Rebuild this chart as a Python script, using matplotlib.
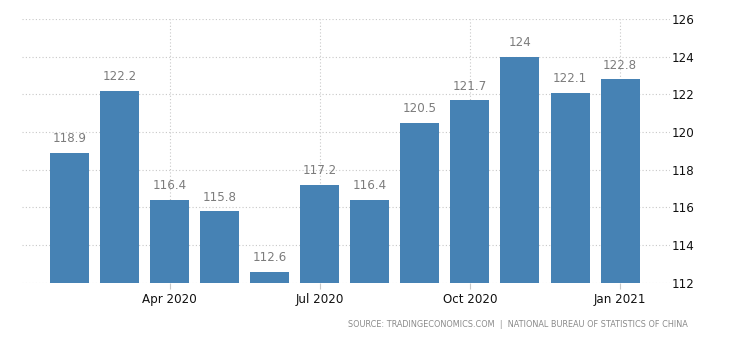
import numpy as np
import matplotlib.pyplot as plt

# Monthly index values, Feb 2020 - Jan 2021
months = ["Feb 2020", "Mar 2020", "Apr 2020", "May 2020", "Jun 2020", "Jul 2020",
          "Aug 2020", "Sep 2020", "Oct 2020", "Nov 2020", "Dec 2020", "Jan 2021"]
values = [118.9, 122.2, 116.4, 115.8, 112.6, 117.2, 116.4, 120.5, 121.7, 124, 122.1, 122.8]
shown_months = ["Apr 2020", "Jul 2020", "Oct 2020", "Jan 2021"]
y_ticks = [112, 114, 116, 118, 120, 122, 124, 126]

bar_color = "#4682b4"
grid_color = "#c8c8c8"

fig = plt.figure(figsize=(7.3, 3.4), dpi=100)
ax = fig.add_axes([0.030, 0.168, 0.888, 0.776])

x = np.arange(len(months))
ax.bar(x, values, width=0.78, color=bar_color, zorder=2)

for xi, v in zip(x, values):
    ax.text(xi, v + 0.4, f"{v:g}", ha="center", va="bottom",
            fontsize=8.6, color="#7c7c7c", zorder=3)

ax.set_ylim(112, 126)
ax.set_xlim(-0.95, 12.0)
ax.set_yticks(y_ticks)
ax.yaxis.tick_right()
ax.tick_params(axis="y", length=0, pad=1, labelsize=8.6, labelcolor="#111111")

tick_pos = [months.index(m) for m in shown_months]
ax.set_xticks(tick_pos)
ax.set_xticklabels(shown_months)
ax.tick_params(axis="x", length=4, width=0.8, color=grid_color, pad=3,
               labelsize=8.6, labelcolor="#111111")

ax.grid(True, linestyle=(0, (1, 2)), color=grid_color, linewidth=0.8, zorder=0)
for side in ["top", "right", "left", "bottom"]:
    ax.spines[side].set_visible(False)

fig.text(0.942, 0.045,
         "SOURCE: TRADINGECONOMICS.COM  |  NATIONAL BUREAU OF STATISTICS OF CHINA",
         ha="right", va="center", fontsize=5.9, color="#8a8a8a")

fig.savefig("out.png", dpi=100)
